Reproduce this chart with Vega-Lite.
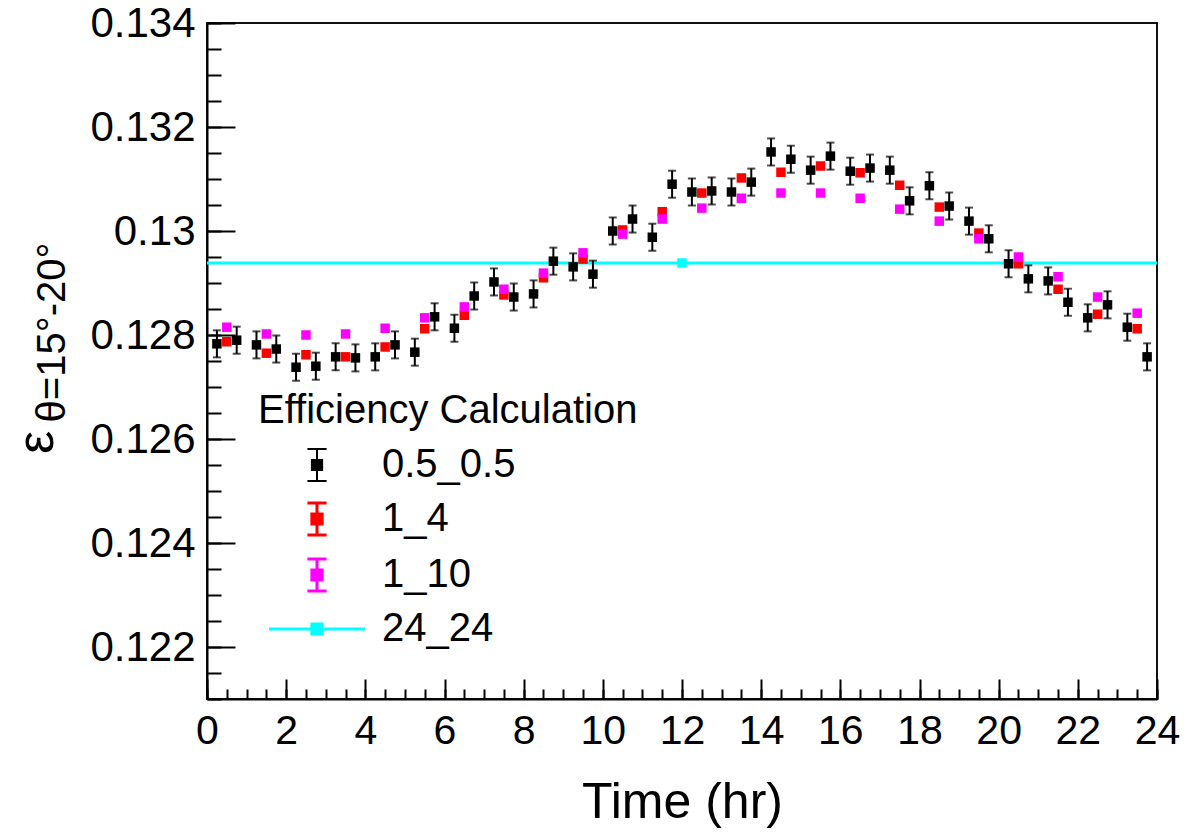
{
  "$schema": "https://vega.github.io/schema/vega-lite/v6.json",
  "width": 950,
  "height": 676,
  "autosize": "none",
  "padding": {"left": 207, "top": 23, "right": 47, "bottom": 133},
  "background": "white",
  "config": {
    "view": {"stroke": "#111", "strokeWidth": 2},
    "font": "Liberation Sans"
  },
  "data": {
    "values": [
      {"s": "24_24", "t": 12, "v": 0.129385, "e": 0, "te": 12},
      {"s": "0.5_0.5", "t": 0.25, "v": 0.12783, "e": 0.00026},
      {"s": "0.5_0.5", "t": 0.75, "v": 0.12790, "e": 0.00026},
      {"s": "0.5_0.5", "t": 1.25, "v": 0.12781, "e": 0.00026},
      {"s": "0.5_0.5", "t": 1.75, "v": 0.12773, "e": 0.00026},
      {"s": "0.5_0.5", "t": 2.25, "v": 0.12738, "e": 0.00026},
      {"s": "0.5_0.5", "t": 2.75, "v": 0.12740, "e": 0.00026},
      {"s": "0.5_0.5", "t": 3.25, "v": 0.12758, "e": 0.00026},
      {"s": "0.5_0.5", "t": 3.75, "v": 0.12756, "e": 0.00026},
      {"s": "0.5_0.5", "t": 4.25, "v": 0.12758, "e": 0.00026},
      {"s": "0.5_0.5", "t": 4.75, "v": 0.12781, "e": 0.00026},
      {"s": "0.5_0.5", "t": 5.25, "v": 0.12767, "e": 0.00026},
      {"s": "0.5_0.5", "t": 5.75, "v": 0.12835, "e": 0.00026},
      {"s": "0.5_0.5", "t": 6.25, "v": 0.12813, "e": 0.00026},
      {"s": "0.5_0.5", "t": 6.75, "v": 0.12875, "e": 0.00026},
      {"s": "0.5_0.5", "t": 7.25, "v": 0.12902, "e": 0.00026},
      {"s": "0.5_0.5", "t": 7.75, "v": 0.12873, "e": 0.00026},
      {"s": "0.5_0.5", "t": 8.25, "v": 0.12879, "e": 0.00026},
      {"s": "0.5_0.5", "t": 8.75, "v": 0.12942, "e": 0.00026},
      {"s": "0.5_0.5", "t": 9.25, "v": 0.12931, "e": 0.00026},
      {"s": "0.5_0.5", "t": 9.75, "v": 0.12917, "e": 0.00026},
      {"s": "0.5_0.5", "t": 10.25, "v": 0.13000, "e": 0.00026},
      {"s": "0.5_0.5", "t": 10.75, "v": 0.13023, "e": 0.00026},
      {"s": "0.5_0.5", "t": 11.25, "v": 0.12988, "e": 0.00026},
      {"s": "0.5_0.5", "t": 11.75, "v": 0.13090, "e": 0.00026},
      {"s": "0.5_0.5", "t": 12.25, "v": 0.13075, "e": 0.00026},
      {"s": "0.5_0.5", "t": 12.75, "v": 0.13077, "e": 0.00026},
      {"s": "0.5_0.5", "t": 13.25, "v": 0.13075, "e": 0.00026},
      {"s": "0.5_0.5", "t": 13.75, "v": 0.13094, "e": 0.00026},
      {"s": "0.5_0.5", "t": 14.25, "v": 0.13152, "e": 0.00026},
      {"s": "0.5_0.5", "t": 14.75, "v": 0.13138, "e": 0.00026},
      {"s": "0.5_0.5", "t": 15.25, "v": 0.13117, "e": 0.00026},
      {"s": "0.5_0.5", "t": 15.75, "v": 0.13144, "e": 0.00026},
      {"s": "0.5_0.5", "t": 16.25, "v": 0.13115, "e": 0.00026},
      {"s": "0.5_0.5", "t": 16.75, "v": 0.13121, "e": 0.00026},
      {"s": "0.5_0.5", "t": 17.25, "v": 0.13117, "e": 0.00026},
      {"s": "0.5_0.5", "t": 17.75, "v": 0.13058, "e": 0.00026},
      {"s": "0.5_0.5", "t": 18.25, "v": 0.13087, "e": 0.00026},
      {"s": "0.5_0.5", "t": 18.75, "v": 0.13048, "e": 0.00026},
      {"s": "0.5_0.5", "t": 19.25, "v": 0.13019, "e": 0.00026},
      {"s": "0.5_0.5", "t": 19.75, "v": 0.12985, "e": 0.00026},
      {"s": "0.5_0.5", "t": 20.25, "v": 0.12937, "e": 0.00026},
      {"s": "0.5_0.5", "t": 20.75, "v": 0.12908, "e": 0.00026},
      {"s": "0.5_0.5", "t": 21.25, "v": 0.12904, "e": 0.00026},
      {"s": "0.5_0.5", "t": 21.75, "v": 0.12863, "e": 0.00026},
      {"s": "0.5_0.5", "t": 22.25, "v": 0.12833, "e": 0.00026},
      {"s": "0.5_0.5", "t": 22.75, "v": 0.12858, "e": 0.00026},
      {"s": "0.5_0.5", "t": 23.25, "v": 0.12815, "e": 0.00026},
      {"s": "0.5_0.5", "t": 23.75, "v": 0.12758, "e": 0.00026},
      {"s": "1_4", "t": 0.5, "v": 0.12787, "e": 0.00003},
      {"s": "1_4", "t": 1.5, "v": 0.12765, "e": 0.00003},
      {"s": "1_4", "t": 2.5, "v": 0.12762, "e": 0.00003},
      {"s": "1_4", "t": 3.5, "v": 0.12758, "e": 0.00003},
      {"s": "1_4", "t": 4.5, "v": 0.12777, "e": 0.00003},
      {"s": "1_4", "t": 5.5, "v": 0.12812, "e": 0.00003},
      {"s": "1_4", "t": 6.5, "v": 0.12838, "e": 0.00003},
      {"s": "1_4", "t": 7.5, "v": 0.12877, "e": 0.00003},
      {"s": "1_4", "t": 8.5, "v": 0.12910, "e": 0.00003},
      {"s": "1_4", "t": 9.5, "v": 0.12946, "e": 0.00003},
      {"s": "1_4", "t": 10.5, "v": 0.13002, "e": 0.00003},
      {"s": "1_4", "t": 11.5, "v": 0.13037, "e": 0.00003},
      {"s": "1_4", "t": 12.5, "v": 0.13073, "e": 0.00003},
      {"s": "1_4", "t": 13.5, "v": 0.13102, "e": 0.00003},
      {"s": "1_4", "t": 14.5, "v": 0.13113, "e": 0.00003},
      {"s": "1_4", "t": 15.5, "v": 0.13125, "e": 0.00003},
      {"s": "1_4", "t": 16.5, "v": 0.13112, "e": 0.00003},
      {"s": "1_4", "t": 17.5, "v": 0.13088, "e": 0.00003},
      {"s": "1_4", "t": 18.5, "v": 0.13046, "e": 0.00003},
      {"s": "1_4", "t": 19.5, "v": 0.12996, "e": 0.00003},
      {"s": "1_4", "t": 20.5, "v": 0.12937, "e": 0.00003},
      {"s": "1_4", "t": 21.5, "v": 0.12888, "e": 0.00003},
      {"s": "1_4", "t": 22.5, "v": 0.12840, "e": 0.00003},
      {"s": "1_4", "t": 23.5, "v": 0.12812, "e": 0.00003},
      {"s": "1_10", "t": 0.5, "v": 0.12815, "e": 0.00003},
      {"s": "1_10", "t": 1.5, "v": 0.12802, "e": 0.00003},
      {"s": "1_10", "t": 2.5, "v": 0.12800, "e": 0.00003},
      {"s": "1_10", "t": 3.5, "v": 0.12802, "e": 0.00003},
      {"s": "1_10", "t": 4.5, "v": 0.12813, "e": 0.00003},
      {"s": "1_10", "t": 5.5, "v": 0.12833, "e": 0.00003},
      {"s": "1_10", "t": 6.5, "v": 0.12854, "e": 0.00003},
      {"s": "1_10", "t": 7.5, "v": 0.12888, "e": 0.00003},
      {"s": "1_10", "t": 8.5, "v": 0.12919, "e": 0.00003},
      {"s": "1_10", "t": 9.5, "v": 0.12958, "e": 0.00003},
      {"s": "1_10", "t": 10.5, "v": 0.12994, "e": 0.00003},
      {"s": "1_10", "t": 11.5, "v": 0.13023, "e": 0.00003},
      {"s": "1_10", "t": 12.5, "v": 0.13044, "e": 0.00003},
      {"s": "1_10", "t": 13.5, "v": 0.13063, "e": 0.00003},
      {"s": "1_10", "t": 14.5, "v": 0.13073, "e": 0.00003},
      {"s": "1_10", "t": 15.5, "v": 0.13073, "e": 0.00003},
      {"s": "1_10", "t": 16.5, "v": 0.13063, "e": 0.00003},
      {"s": "1_10", "t": 17.5, "v": 0.13042, "e": 0.00003},
      {"s": "1_10", "t": 18.5, "v": 0.13019, "e": 0.00003},
      {"s": "1_10", "t": 19.5, "v": 0.12985, "e": 0.00003},
      {"s": "1_10", "t": 20.5, "v": 0.12950, "e": 0.00003},
      {"s": "1_10", "t": 21.5, "v": 0.12912, "e": 0.00003},
      {"s": "1_10", "t": 22.5, "v": 0.12873, "e": 0.00003},
      {"s": "1_10", "t": 23.5, "v": 0.12842, "e": 0.00003}
    ]
  },
  "resolve": {"axis": {"x": "independent", "y": "independent"}},
  "layer": [
    {
      "transform": [{"filter": "datum.s === '24_24'"}],
      "mark": {"type": "errorbar", "color": "#00ffff", "thickness": 3},
      "encoding": {
        "x": {"field": "t", "type": "quantitative", "scale": {"domain": [0, 24], "nice": false, "zero": false}, "axis": null},
        "xError": {"field": "te"},
        "y": {"field": "v", "type": "quantitative", "scale": {"domain": [0.121, 0.134], "nice": false, "zero": false}, "axis": null}
      }
    },
    {
      "transform": [{"filter": "datum.s === '0.5_0.5'"}],
      "mark": {"type": "errorbar", "color": "black", "thickness": 2, "ticks": {"size": 8, "thickness": 2, "color": "black"}},
      "encoding": {
        "x": {"field": "t", "type": "quantitative", "scale": {"domain": [0, 24], "nice": false, "zero": false},
          "axis": {"orient": "bottom", "values": [0,0.5,1,1.5,2,2.5,3,3.5,4,4.5,5,5.5,6,6.5,7,7.5,8,8.5,9,9.5,10,10.5,11,11.5,12,12.5,13,13.5,14,14.5,15,15.5,16,16.5,17,17.5,18,18.5,19,19.5,20,20.5,21,21.5,22,22.5,23,23.5,24],
            "tickSize": -10, "tickWidth": 2, "tickColor": "black", "labels": false, "domain": false, "grid": false, "title": null}},
        "y": {"field": "v", "type": "quantitative", "scale": {"domain": [0.121, 0.134], "nice": false, "zero": false},
          "axis": {"orient": "left", "values": [0.121,0.1215,0.122,0.1225,0.123,0.1235,0.124,0.1245,0.125,0.1255,0.126,0.1265,0.127,0.1275,0.128,0.1285,0.129,0.1295,0.13,0.1305,0.131,0.1315,0.132,0.1325,0.133,0.1335,0.134],
            "tickSize": -14, "tickWidth": 2, "tickColor": "black", "labels": false, "domain": false, "grid": false,
            "title": "θ=15°-20°", "titleFont": "Liberation Sans", "titleFontSize": 40, "titleFontWeight": "normal", "titleColor": "black",
            "titleAngle": 270, "titleX": -143, "titleY": 309, "titleBaseline": "alphabetic", "titleAlign": "center"}},
        "yError": {"field": "e"}
      }
    },
    {
      "mark": {"type": "point", "shape": "square", "filled": true, "size": 90, "opacity": 1, "strokeWidth": 0},
      "encoding": {
        "x": {"field": "t", "type": "quantitative", "scale": {"domain": [0, 24], "nice": false, "zero": false},
          "axis": {"orient": "bottom", "values": [0,2,4,6,8,10,12,14,16,18,20,22,24], "format": "d",
            "tickSize": -20, "tickWidth": 2, "tickColor": "black", "domainColor": "black", "domainWidth": 2,
            "labelFont": "Liberation Sans", "labelFontSize": 41, "labelColor": "black", "labelPadding": 32, "labelFlush": false, "labelOverlap": false, "grid": false,
            "title": "Time (hr)", "titleFont": "Liberation Sans", "titleFontSize": 50, "titleFontWeight": "normal", "titleColor": "black",
            "titleX": 475, "titleY": 118, "titleBaseline": "alphabetic", "titleAlign": "center"}},
        "y": {"field": "v", "type": "quantitative", "scale": {"domain": [0.121, 0.134], "nice": false, "zero": false},
          "axis": {"orient": "left", "values": [0.122,0.124,0.126,0.128,0.13,0.132,0.134], "format": ".3~f",
            "tickSize": -28, "tickWidth": 2, "tickColor": "black", "domainColor": "black", "domainWidth": 2,
            "labelFont": "Liberation Sans", "labelFontSize": 42, "labelColor": "black", "labelPadding": 40, "labelFlush": false, "labelOverlap": false, "grid": false,
            "title": "ε", "titleFont": "Liberation Sans", "titleFontSize": 52, "titleFontWeight": "normal", "titleColor": "black",
            "titleAngle": 270, "titleX": -155, "titleY": 419, "titleBaseline": "alphabetic", "titleAlign": "center"}},
        "color": {"field": "s", "type": "nominal",
          "scale": {"domain": ["0.5_0.5", "1_4", "1_10", "24_24"], "range": ["#000000", "#ff0000", "#ff00ff", "#00ffff"]},
          "legend": {
            "title": "Efficiency Calculation", "orient": "none", "legendX": 51, "legendY": 368,
            "titleFont": "Liberation Sans", "titleFontSize": 40, "titleFontWeight": "normal", "titleColor": "black", "titlePadding": 14, "titleLimit": 800,
            "labelFont": "Liberation Sans", "labelFontSize": 40, "labelColor": "black", "labelOffset": 45, "labelLimit": 400,
            "symbolOffset": 39, "rowPadding": 12, "padding": 0, "symbolSize": 1024,
            "symbolType": {"expr": "datum.value === '24_24' ? 'M-3,0H3M-0.32,-0.32H0.32V0.32H-0.32Z' : 'M-0.6,-1H0.6M0,-1V1M-0.6,1H0.6M-0.32,-0.32H0.32V0.32H-0.32Z'"},
            "symbolStrokeColor": {"expr": "scale('color', datum.value)"},
            "symbolStrokeWidth": {"expr": "datum.value === '0.5_0.5' ? 2 : 3"},
            "symbolOpacity": 1
          }
        }
      }
    }
  ]
}
